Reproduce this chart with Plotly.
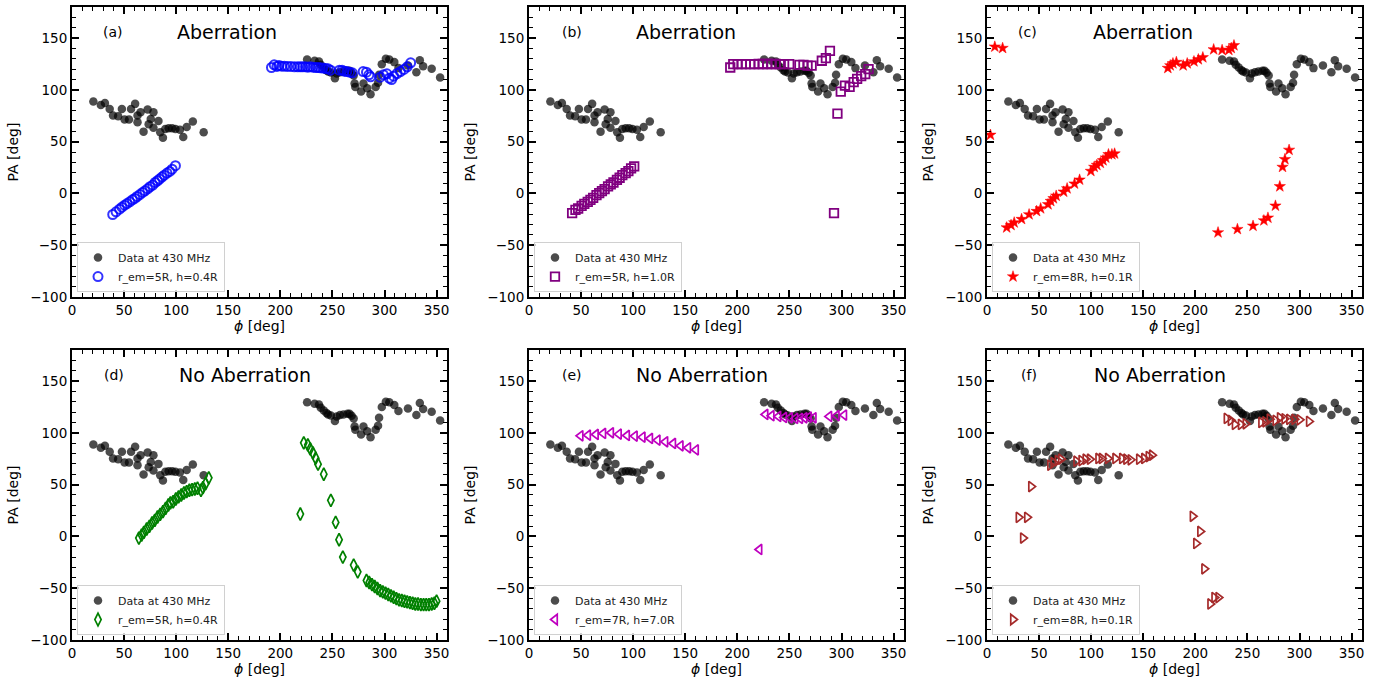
import plotly.graph_objects as go

# ---------------- data ----------------
data_phi = [20.5, 27.7, 31.6, 36.2, 39.4, 44.3, 47.9, 50.5, 54.7, 56.7, 60.6, 62.9, 62.9, 65.8,
            68.7, 72.6, 73.6, 75.6, 78.2, 78.2, 83.0, 84.7, 87.3, 89.6, 92.8, 96.1, 99.3, 103.6,
            106.8, 110.1, 116.0, 126.4,
            225.7, 232.9, 237.1, 238.8, 241.7, 244.3, 245.9, 248.5, 252.4, 254.1, 257.3, 260.6,
            264.5, 266.4, 268.4, 270.4, 271.3, 272.0, 277.5, 279.8, 283.4, 286.6, 291.5, 293.8,
            294.8, 297.4, 301.3, 304.6, 309.4, 313.4, 322.5, 330.6, 333.9, 337.1, 345.3, 353.4]
data_pa = [88.7, 85.5, 87.4, 81.6, 75.2, 74.5, 81.6, 71.3, 71.3, 81.6, 86.5, 75.2, 68.7, 78.4,
           59.7, 81.0, 66.8, 71.9, 78.4, 63.5, 70.0, 59.0, 53.9, 62.3, 62.9, 62.9, 62.3, 61.6,
           54.5, 64.2, 69.4, 59.0,
           129.4, 128.1, 127.4, 124.2, 121.6, 119.0, 117.7, 116.8, 111.3, 115.8, 117.1, 117.7,
           118.4, 118.4, 116.5, 113.9, 106.1, 102.9, 98.4, 106.1, 101.6, 95.8, 102.9, 106.8,
           114.5, 124.8, 130.0, 129.4, 126.8, 121.0, 123.5, 117.1, 128.7, 122.9, 120.3, 111.9]

a_phi = [39.1, 42.3, 45.6, 47.9, 50.5, 52.8, 55.4, 58.0, 60.3, 62.5, 65.1, 67.8, 70.0, 72.6,
         74.9, 77.5, 79.8, 82.1, 84.0, 86.3, 88.6, 91.2, 93.8, 96.1, 99.3,
         191.5, 194.1, 196.7, 198.7, 201.3, 203.9, 206.8, 210.1, 213.5, 216.6, 219.2, 221.5,
         224.1, 226.4, 228.7, 231.3, 233.9, 236.2, 238.4, 241.0, 243.6, 245.9, 248.2, 256.7,
         259.3, 261.2, 263.8, 266.4, 269.1, 279.5, 282.7, 285.0, 286.6, 295.8, 299.0, 302.3,
         304.6, 306.8, 308.8, 312.1, 315.3, 318.6, 321.8, 325.1]
a_pa = [-20.3, -17.7, -15.2, -13.2, -11.3, -9.7, -8.1, -6.1, -4.8, -2.9, -1.0, 1.0, 2.6, 4.5,
        6.5, 8.1, 10.6, 12.3, 13.9, 15.8, 17.7, 19.7, 21.3, 23.5, 26.8,
        121.6, 124.2, 122.6, 123.5, 122.9, 122.9, 122.6, 122.6, 122.3, 122.3, 122.3, 122.3,
        122.3, 121.9, 122.3, 121.9, 121.6, 121.6, 121.3, 121.0, 120.6, 120.3, 119.0, 119.0,
        119.0, 118.1, 117.7, 117.1, 116.5, 117.7, 117.1, 114.5, 112.6, 112.3, 114.5, 115.5,
        111.3, 110.0, 113.2, 115.8, 117.7, 119.7, 122.3, 126.1]

b_phi = [41.4, 44.6, 47.2, 50.5, 53.1, 56.4, 59.0, 61.6, 64.8, 67.4, 70.0, 72.6, 75.9, 78.5,
         81.1, 84.4, 87.0, 89.6, 92.8, 95.4, 98.0, 101.0,
         193.2, 196.1, 200.3, 204.2, 208.1, 212.4, 216.3, 220.5, 224.4, 228.7, 232.9, 236.8,
         240.7, 244.9, 249.8, 259.6, 263.5, 267.4, 271.3, 281.1, 285.0, 288.9, 292.8, 296.1,
         299.3, 303.3, 307.8, 311.7, 315.0, 318.9, 322.8, 326.0]
b_pa = [-19.0, -15.8, -14.5, -11.9, -10.0, -8.1, -6.1, -4.2, -1.6, 0.3, 2.3, 4.2, 6.8, 8.7,
        10.6, 13.2, 15.2, 17.7, 19.7, 21.6, 24.2, 26.1,
        121.6, 124.8, 124.8, 124.8, 124.8, 124.8, 124.8, 125.0, 125.0, 125.0, 125.0, 125.0,
        124.8, 124.8, 124.8, 124.2, 124.2, 123.5, 123.5, 128.1, 130.6, 137.7, -19.0, 77.1,
        98.4, 104.2, 102.9, 107.4, 110.6, 113.2, 115.2, 120.0]

c_phi = [3.3, 7.5, 15.0, 18.9, 23.1, 26.1, 33.2, 40.4, 47.6, 51.5, 58.6, 61.2, 63.8, 66.4,
         73.6, 76.9, 84.0, 88.9, 99.7, 102.9, 105.5, 108.8, 111.4, 114.0, 116.6, 119.9, 122.5,
         173.6, 175.9, 178.5, 181.8, 188.3, 192.2, 198.7, 202.9, 207.2, 217.6, 225.7, 232.2,
         234.5, 237.1, 221.8, 240.4, 255.4, 265.8, 269.7, 276.9, 281.1, 283.7, 286.0, 290.0]
c_pa = [56.5, 141.6, 140.3, -32.9, -30.6, -28.1, -24.8, -20.3, -17.1, -14.5, -10.6, -7.4, -4.8,
        -2.3, 1.6, 4.8, 9.4, 13.2, 21.6, 25.5, 27.4, 29.4, 31.9, 34.5, 37.7, 37.7, 38.4,
        121.0, 123.5, 125.5, 126.8, 123.5, 125.5, 127.4, 129.4, 131.3, 139.0, 138.4, 138.4,
        140.3, 142.9, -37.7, -34.5, -31.3, -26.1, -23.5, -11.9, 6.8, 25.5, 33.0, 42.0]

d_phi = [64.2, 66.8, 69.0, 71.7, 74.3, 76.9, 79.5, 82.1, 84.7, 87.3, 89.9, 92.5, 94.5, 97.1,
         99.7, 102.3, 104.9, 107.5, 110.1, 112.7, 115.3, 117.9, 120.5, 123.8, 125.7, 128.3, 131.3,
         219.2, 222.5, 226.4, 228.7, 231.3, 233.9, 236.2, 241.7, 248.5, 253.1, 256.4, 260.0,
         270.4, 274.3, 282.7, 285.3, 288.0, 290.6, 293.2, 295.8, 298.4, 301.0, 303.6, 306.2,
         308.8, 311.4, 314.0, 316.6, 319.2, 321.8, 324.4, 327.0, 329.6, 332.2, 334.9, 337.5,
         340.1, 342.7, 345.3, 347.9, 350.0]
d_pa = [-1.6, 1.3, 3.9, 7.1, 9.7, 12.9, 15.5, 18.7, 21.3, 23.9, 27.1, 30.3, 32.3, 33.5, 36.1,
        38.1, 40.0, 41.9, 43.2, 44.5, 45.2, 45.8, 46.5, 44.5, 47.1, 51.0, 56.5,
        21.6, 90.3, 88.4, 84.5, 80.6, 75.5, 69.7, 60.0, 34.8, 13.5, -3.2, -20.0, -27.7, -34.2,
        -42.6, -44.5, -46.5, -48.4, -50.3, -52.3, -53.5, -54.8, -56.1, -57.4, -58.7, -60.0,
        -61.3, -61.9, -62.6, -63.2, -63.9, -64.5, -65.2, -65.2, -65.8, -65.8, -65.8, -65.8,
        -65.2, -64.5, -62.5]

e_phi = [49.5, 56.7, 64.2, 71.3, 78.8, 86.3, 94.1, 101.6, 109.1, 116.3, 123.5, 130.9, 138.4,
         145.6, 152.8, 160.3, 221.2, 227.0, 232.9, 239.4, 245.0, 250.5, 255.7, 260.3, 264.5,
         268.7, 273.3, 288.3, 295.4, 302.6]
e_pa = [97.1, 97.7, 98.4, 99.4, 100.0, 98.7, 97.4, 96.8, 95.8, 94.5, 92.9, 91.3, 89.7, 87.4,
        85.5, 83.5, -12.6, 117.7, 116.5, 115.8, 114.8, 114.5, 113.9, 113.9, 114.5, 115.2, 114.5,
        115.8, 116.5, 117.1]

f_phi = [30.3, 34.5, 38.4, 42.3, 60.6, 63.8, 67.8, 71.0, 85.7, 90.6, 94.5, 98.7, 106.8, 110.1,
         116.0, 123.1, 129.6, 133.6, 137.8, 145.9, 150.8, 155.1, 158.3, 197.4, 200.7, 204.6,
         208.5, 214.3, 218.2, 222.1, 230.0, 233.9, 237.8, 243.6, 248.2, 263.2, 267.1, 271.3,
         276.9, 281.1, 285.5, 290.0, 295.0, 300.0, 309.0]
f_pa = [18.4, -1.6, 18.4, 48.1, 68.7, 71.3, 73.2, 74.5, 72.6, 73.2, 74.5, 74.5, 75.2, 75.2,
        75.2, 75.2, 75.2, 74.5, 73.9, 74.5, 75.2, 77.1, 78.4, 19.4, -6.8, 4.8, -31.3, -65.2,
        -59.0, -59.0, 113.9, 112.0, 108.1, 108.1, 108.7, 110.0, 110.6, 113.2, 112.0, 114.5,
        113.5, 113.0, 113.0, 112.5, 111.0]

panel_labels = ["(a)", "(b)", "(c)", "(d)", "(e)", "(f)"]
panel_titles = ["Aberration", "Aberration", "Aberration",
                "No Aberration", "No Aberration", "No Aberration"]
model_names = ["r_em=5R, h=0.4R", "r_em=5R, h=1.0R", "r_em=8R, h=0.1R",
               "r_em=5R, h=0.4R", "r_em=7R, h=7.0R", "r_em=8R, h=0.1R"]
model_phi = [a_phi, b_phi, c_phi, d_phi, e_phi, f_phi]
model_pa = [a_pa, b_pa, c_pa, d_pa, e_pa, f_pa]
x_ticks = [0, 50, 100, 150, 200, 250, 300, 350]
y_ticks = [-100, -50, 0, 50, 100, 150]

for p, q in zip(model_phi, model_pa):
    assert len(p) == len(q), (len(p), len(q))

# ---------------- styles ----------------
styles = [
    dict(symbol="circle-open", color="rgba(0,0,255,0.8)", size=9, lw=2),
    dict(symbol="square-open", color="#800080", size=8.5, lw=1.8),
    dict(symbol="star", color="#ff0000", size=8.5, lw=0.5),
    dict(symbol="diamond-tall-open", color="#008000", size=9, lw=1.7),
    dict(symbol="triangle-left-open", color="#bf00bf", size=9, lw=1.7),
    dict(symbol="triangle-right-open", color="#a52a2a", size=9, lw=1.7),
]
label_x = [39, 41, 39, 40, 41, 40]
title_x = [149, 151, 149.5, 166, 166, 166]

FONT = "DejaVu Sans"
W, H = 1390, 684
ml, mr, mt, mb = 72, 28, 5, 44
pw, ph = W - ml - mr, H - mt - mb
col_px = [(72, 447), (529, 904), (987, 1362)]
row_px = [(5, 296), (349, 640)]

fig = go.Figure()
layout = dict(
    width=W, height=H,
    margin=dict(l=ml, r=mr, t=mt, b=mb),
    paper_bgcolor="white", plot_bgcolor="white",
    font=dict(family=FONT, size=14, color="black"),
    annotations=[],
)

for i in range(6):
    r, c = divmod(i, 3)
    sfx = "" if i == 0 else str(i + 1)
    xr, yr = "x" + sfx, "y" + sfx
    lg = "legend" + sfx
    x0, x1 = col_px[c]
    y0, y1 = row_px[r]
    xd = [(x0 - ml) / pw, (x1 - ml) / pw]
    yd = [(H - mb - y1) / ph, (H - mb - y0) / ph]
    axis_common = dict(
        showline=True, linecolor="black", linewidth=2, mirror="allticks",
        ticks="inside", ticklen=7, tickwidth=1.6, tickcolor="black",
        showgrid=False, zeroline=False,
        tickfont=dict(family=FONT, size=13.5, color="black"),
        minor=dict(ticks="inside", ticklen=4, tickwidth=1.2, tickcolor="black", dtick=10,
                   showgrid=False),
    )
    layout["xaxis" + sfx] = dict(axis_common, domain=xd, anchor=yr, range=[0, 360],
                                 tickvals=x_ticks,
                                 title=dict(text="<i>ϕ</i> [deg]", standoff=4,
                                            font=dict(family=FONT, size=14)))
    layout["yaxis" + sfx] = dict(axis_common, domain=yd, anchor=xr, range=[-100, 180],
                                 tickvals=y_ticks,
                                 title=dict(text="PA [deg]", standoff=8,
                                            font=dict(family=FONT, size=14)))
    layout[lg] = dict(
        x=xd[0] + 5 / pw, y=yd[0] + 5 / ph, xanchor="left", yanchor="bottom",
        xref="paper", yref="paper",
        bgcolor="rgba(255,255,255,0.8)", bordercolor="#d0d0d0", borderwidth=1,
        font=dict(family=FONT, size=11, color="#222222"),
        itemwidth=30, tracegroupgap=0,
    )
    fig.add_trace(go.Scatter(
        x=data_phi, y=data_pa, mode="markers", name="Data at 430 MHz",
        marker=dict(color="rgba(0,0,0,0.7)", size=8.5, line=dict(width=0)),
        xaxis=xr, yaxis=yr, legend=lg, showlegend=True,
    ))
    st = styles[i]
    fig.add_trace(go.Scatter(
        x=model_phi[i], y=model_pa[i], mode="markers", name=model_names[i],
        marker=dict(symbol=st["symbol"], color=st["color"], size=st["size"],
                    line=dict(color=st["color"], width=st["lw"])),
        xaxis=xr, yaxis=yr, legend=lg, showlegend=True,
    ))
    layout["annotations"].append(dict(
        x=label_x[i], y=156, xref=xr, yref=yr, text=panel_labels[i], showarrow=False,
        font=dict(family=FONT, size=14, color="black")))
    layout["annotations"].append(dict(
        x=title_x[i], y=156, xref=xr, yref=yr, text=panel_titles[i], showarrow=False,
        font=dict(family=FONT, size=19, color="black")))

fig.update_layout(**layout)
fig.write_html("out.html", config={"displayModeBar": False},
               post_script="document.body.style.margin='0px';document.body.style.padding='0px';")
